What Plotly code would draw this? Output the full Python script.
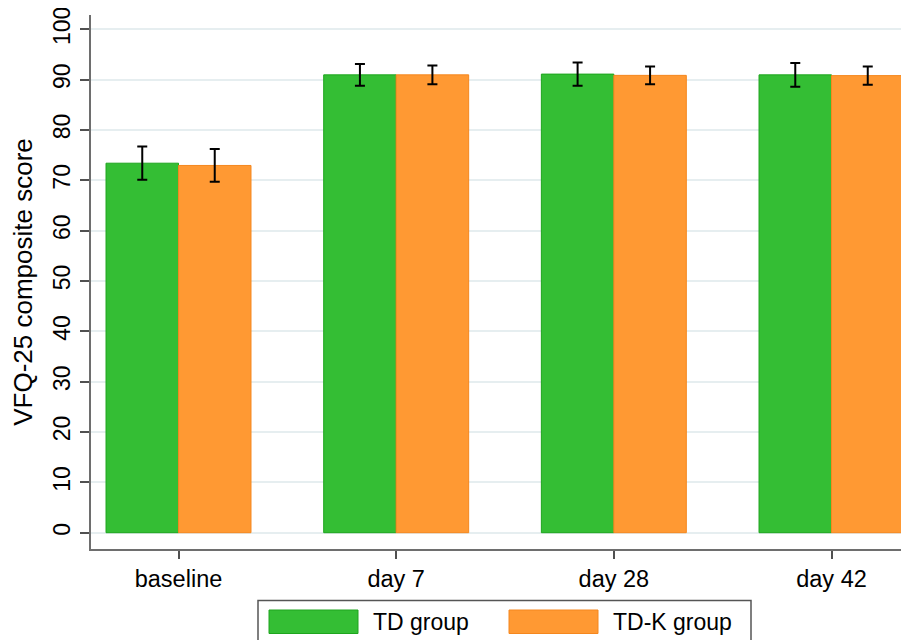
import plotly.graph_objects as go

categories = ["baseline", "day 7", "day 28", "day 42"]
td_values = [73.4, 90.95, 91.1, 90.95]
td_errors = [3.3, 2.15, 2.3, 2.35]
tdk_values = [72.95, 90.95, 90.85, 90.8]
tdk_errors = [3.25, 1.85, 1.75, 1.8]
series_names = ["TD group", "TD-K group"]
y_ticks = [0, 10, 20, 30, 40, 50, 60, 70, 80, 90, 100]

GREEN = "rgb(52,190,52)"
GREEN_LINE = "rgb(30,165,30)"
ORANGE = "rgb(255,153,51)"
ORANGE_LINE = "rgb(245,135,30)"
FONT = "Liberation Sans, Arial, sans-serif"

# page body has an 8px margin; figure is sized so the plot lands where the reference has it
OFF = 8
W, H = 909 - OFF, 640 - OFF
ML, MR, MT, MB = 91 - OFF, 0, 15 - OFF, 91

fig = go.Figure()
fig.add_trace(go.Bar(
    x=categories, y=td_values, name=series_names[0],
    marker=dict(color=GREEN, line=dict(color=GREEN_LINE, width=1)),
    error_y=dict(type="data", array=td_errors, color="black", thickness=2, width=5),
    showlegend=False,
))
fig.add_trace(go.Bar(
    x=categories, y=tdk_values, name=series_names[1],
    marker=dict(color=ORANGE, line=dict(color=ORANGE_LINE, width=1)),
    error_y=dict(type="data", array=tdk_errors, color="black", thickness=2, width=5),
    showlegend=False,
))

pw = W - ML - MR
ph = H - MT - MB

def px_x(x):
    return (x - OFF - ML) / pw

def px_y(y):
    return (H - MB - (y - OFF)) / ph

shapes = []
shapes.append(dict(type="rect", xref="paper", yref="paper",
                   x0=px_x(258), x1=px_x(751), y0=px_y(600.5), y1=px_y(660),
                   line=dict(color="rgb(85,85,85)", width=1.5), fillcolor="white"))
shapes.append(dict(type="rect", xref="paper", yref="paper",
                   x0=px_x(269), x1=px_x(358), y0=px_y(610), y1=px_y(633.5),
                   line=dict(color=GREEN_LINE, width=1), fillcolor=GREEN))
shapes.append(dict(type="rect", xref="paper", yref="paper",
                   x0=px_x(509), x1=px_x(598), y0=px_y(610), y1=px_y(633.5),
                   line=dict(color=ORANGE_LINE, width=1), fillcolor=ORANGE))

annotations = [
    dict(text=series_names[0], xref="paper", yref="paper", x=px_x(371), y=px_y(622),
         xanchor="left", yanchor="middle", showarrow=False,
         font=dict(family=FONT, size=23, color="black")),
    dict(text=series_names[1], xref="paper", yref="paper", x=px_x(611), y=px_y(622),
         xanchor="left", yanchor="middle", showarrow=False,
         font=dict(family=FONT, size=23, color="black")),
]

fig.update_layout(
    width=W, height=H,
    margin=dict(l=ML, r=MR, t=MT, b=MB, pad=0),
    paper_bgcolor="white", plot_bgcolor="white",
    barmode="group", bargap=0.334, bargroupgap=0,
    font=dict(family=FONT, size=23, color="black"),
    shapes=shapes, annotations=annotations,
    xaxis=dict(
        range=[-0.402, 3.356], showgrid=False, zeroline=False,
        showline=True, linecolor="rgb(110,110,110)", linewidth=2,
        ticks="outside", ticklen=8, tickwidth=1.5, tickcolor="rgb(80,80,80)",
        tickfont=dict(family=FONT, size=23.5, color="black"),
        ticklabeloverflow="allow",
    ),
    yaxis=dict(
        range=[-3.24, 102.84], tickvals=y_ticks, ticktext=[str(v) for v in y_ticks],
        tickangle=-90,
        showgrid=True, gridcolor="rgb(230,238,240)", gridwidth=2, zeroline=False,
        showline=True, linecolor="rgb(110,110,110)", linewidth=2,
        ticks="outside", ticklen=9, tickwidth=1.5, tickcolor="rgb(80,80,80)",
        tickfont=dict(family=FONT, size=23, color="black"),
        ticklabelstandoff=1, ticklabeloverflow="allow",
        title=dict(text="VFQ-25 composite score", standoff=19,
                   font=dict(family=FONT, size=26, color="black")),
    ),
)

fig.write_html("out.html")
